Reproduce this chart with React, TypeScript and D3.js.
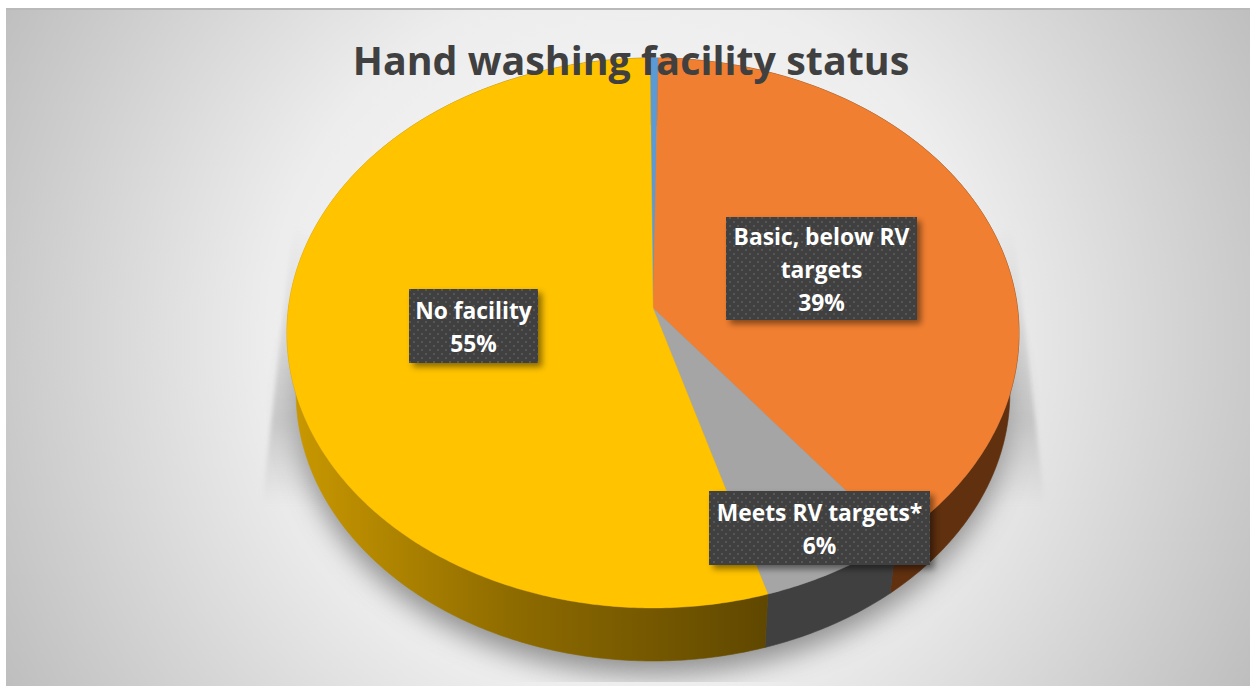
import React from "react";
import * as d3 from "d3";

// chart values
const categories = ["Not classified", "Basic, below RV targets", "Meets RV targets*", "No facility"];
const shares = [0.4, 39.1, 6, 54.5];
const topColors = ["#5b9bd5", "#f17f31", "#a5a5a5", "#ffc300"];
const wallColors = ["#2f5b85", "#60300f", "#404040", "url(#yellowWall)"];
const labelLines = [[], ["Basic, below RV", "targets", "39%"], ["Meets RV targets*", "6%"], ["No facility", "55%"]];

const title = "Hand washing facility status";

// label boxes [x, y, w, h], same order as the categories
const labelBoxes = [null, [726, 217, 191, 103], [709, 491, 221, 74], [409, 289, 129, 74]];

const width = 1250;
const height = 686;

// the disc is a circle seen in perspective, centre lands above the ellipse middle
const cx = 653;
const cy = 308;
const k = 0.0909;
const a = 364.5;
const b = 272.7;
const wallDrop = 60.5;
const wallScale = 0.975; // lower rim is further away, so a bit smaller
const startRotation = -0.009;

function project(angle: number): [number, number] {
  const u = Math.sin(angle);
  const v = -Math.cos(angle);
  const w = 1 - k * v;
  return [cx + (a * u) / w, cy + (b * v) / w];
}

function lowerRim([x, y]: [number, number]): [number, number] {
  return [cx + (x - cx) * wallScale, cy + (y - cy) * wallScale + wallDrop];
}

const arcs = d3
  .pie<number>()
  .sort(null)
  .startAngle(startRotation)
  .endAngle(startRotation + 2 * Math.PI)(shares);

function arcPoints(start: number, end: number): [number, number][] {
  const n = Math.max(2, Math.ceil((end - start) / 0.01));
  return d3.range(n + 1).map((i) => project(start + ((end - start) * i) / n));
}

const line = d3.line();

function slicePath(start: number, end: number) {
  return line([[cx, cy], ...arcPoints(start, end)]) + "Z";
}

function wallPath(start: number, end: number) {
  const top = arcPoints(start, end);
  const bottom = top.map(lowerRim).reverse();
  return line([...top, ...bottom]) + "Z";
}

// soft shadow on the floor under the pie
const floorShadow =
  line(arcPoints(0, 2 * Math.PI).map(lowerRim).map(([x, y]) => [x, y + 14] as [number, number])) + "Z";

// the two reflected wedges either side of the pie
const leftWedge = line([[293, 225], [262, 505], [420, 505], [420, 300]]) + "Z";
const rightWedge = line([[1013, 225], [1045, 505], [890, 505], [890, 300]]) + "Z";

export default function App() {
  return (
    <svg
      width={width}
      height={height}
      style={{ position: "absolute", left: 0, top: 0, background: "#ffffff" }}
    >
      <defs>
        <radialGradient id="bg" gradientUnits="userSpaceOnUse" cx={628} cy={340} r={720}>
          <stop offset="0" stopColor="#fbfbfb" />
          <stop offset="0.5" stopColor="#ededed" />
          <stop offset="1" stopColor="#bdbdbd" />
        </radialGradient>
        <linearGradient id="yellowWall" gradientUnits="userSpaceOnUse" x1={297} y1={0} x2={770} y2={0}>
          <stop offset="0" stopColor="#c89700" />
          <stop offset="0.45" stopColor="#8f6c00" />
          <stop offset="1" stopColor="#5f4700" />
        </linearGradient>
        <linearGradient id="wedgeFade" gradientUnits="userSpaceOnUse" x1={0} y1={225} x2={0} y2={505}>
          <stop offset="0" stopColor="#a8a8a8" stopOpacity="0" />
          <stop offset="0.7" stopColor="#a8a8a8" stopOpacity="0.5" />
          <stop offset="1" stopColor="#a8a8a8" stopOpacity="0" />
        </linearGradient>
        <clipPath id="floorClip">
          <rect x={0} y={0} width={width} height={682} />
        </clipPath>
        <filter id="blur" x="-20%" y="-20%" width="140%" height="140%">
          <feGaussianBlur stdDeviation="14" />
        </filter>
        <filter id="softEdge" x="-20%" y="-20%" width="140%" height="140%">
          <feGaussianBlur stdDeviation="2" />
        </filter>
        <filter id="boxShadow" x="-10%" y="-10%" width="125%" height="130%">
          <feDropShadow dx="4" dy="4" stdDeviation="3" floodColor="#000" floodOpacity="0.45" />
        </filter>
        <pattern id="dots" width="8" height="8" patternUnits="userSpaceOnUse">
          <rect width="8" height="8" fill="#404040" />
          <rect x="1" y="1" width="2" height="2" fill="#565656" />
          <rect x="5" y="5" width="2" height="2" fill="#565656" />
        </pattern>
      </defs>

      <rect x={6} y={8} width={width - 6} height={height - 8} fill="url(#bg)" />
      <rect x={6} y={8} width={width - 6} height={2} fill="#b9b9b9" />

      <g clipPath="url(#floorClip)">
        <path d={floorShadow} fill="#707070" opacity={0.75} filter="url(#blur)" />
      </g>
      <path d={leftWedge} fill="url(#wedgeFade)" filter="url(#softEdge)" />
      <path d={rightWedge} fill="url(#wedgeFade)" filter="url(#softEdge)" />

      {arcs.map((d, i) => (
        <path
          key={"wall" + i}
          d={wallPath(d.startAngle, d.endAngle)}
          fill={wallColors[i]}
          stroke={wallColors[i]}
          strokeWidth={0.6}
        />
      ))}
      {arcs.map((d, i) => (
        <path
          key={"top" + i}
          d={slicePath(d.startAngle, d.endAngle)}
          fill={topColors[i]}
          stroke={topColors[i]}
          strokeWidth={0.4}
        />
      ))}

      <text
        x={631}
        y={75}
        textAnchor="middle"
        fontFamily="'Open Sans', sans-serif"
        fontWeight={700}
        fontSize={39.4}
        fill="#404040"
      >
        {title}
      </text>

      {categories.map((c, i) => {
        const box = labelBoxes[i];
        if (!box) return null;
        const [x, y, w, h] = box;
        const lines = labelLines[i];
        const lineGap = 33;
        const firstY = y + h / 2 - ((lines.length - 1) * lineGap) / 2 + 9;
        return (
          <g key={c}>
            <rect x={x} y={y} width={w} height={h} fill="url(#dots)" filter="url(#boxShadow)" />
            {lines.map((t, j) => (
              <text
                key={t}
                x={x + w / 2}
                y={firstY + j * lineGap}
                textAnchor="middle"
                fontFamily="'Open Sans', sans-serif"
                fontWeight={700}
                fontSize={22.8}
                fill="#ffffff"
              >
                {t}
              </text>
            ))}
          </g>
        );
      })}
    </svg>
  );
}
